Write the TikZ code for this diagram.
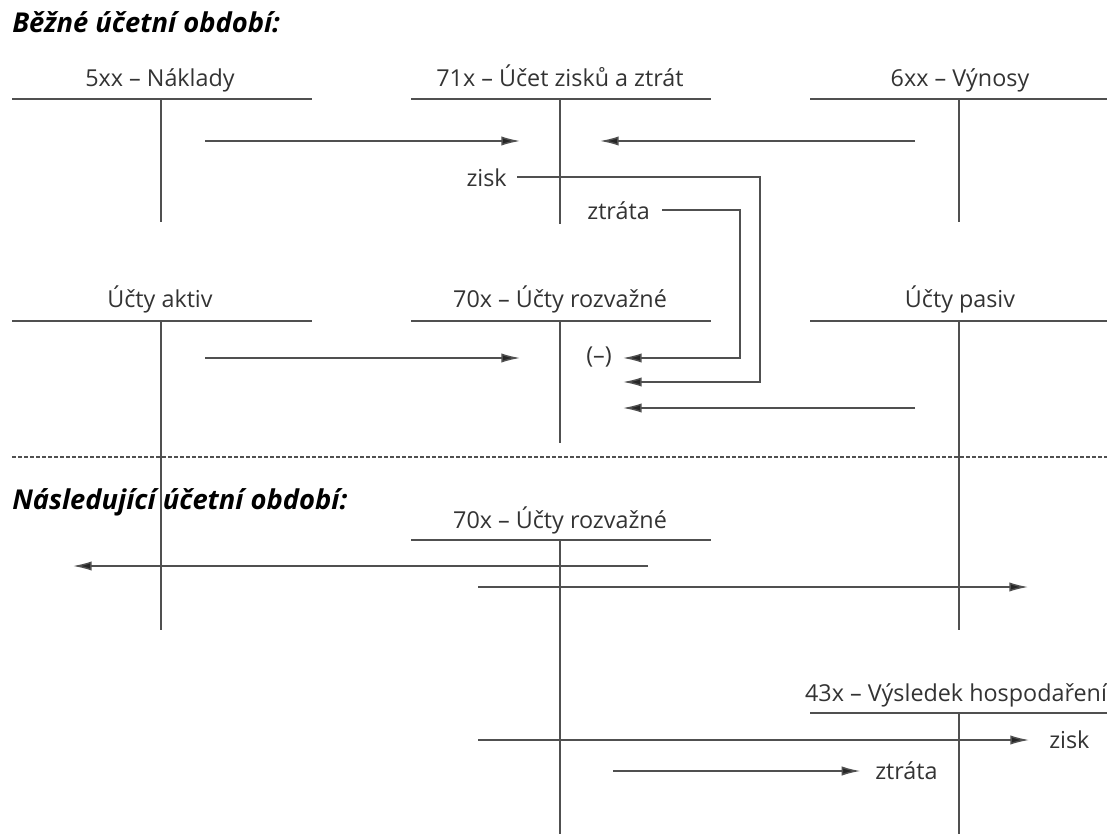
\documentclass[tikz,border=0pt]{standalone}
\usepackage{fontspec}
\setmainfont{Open Sans}
\usetikzlibrary{arrows.meta}
\definecolor{ln}{HTML}{505050}
\tikzset{
  acct/.style={inner sep=0pt, anchor=base, font=\fontsize{17.5}{20}\selectfont, text=black!80},
  head/.style={inner sep=0pt, anchor=base west, font=\fontsize{20.5}{24}\selectfont\bfseries\itshape},
  lab/.style={inner sep=0pt, font=\fontsize{17.5}{20}\selectfont, text=black!80},
  tl/.style={draw=ln, line width=1.3pt},
  arr/.style={draw=ln, line width=1.1pt, -{Latex[length=14pt,width=7pt,fill=black!85]}},
}
\begin{document}
\begin{tikzpicture}[x=0.75pt,y=-0.75pt]
\useasboundingbox (0,0) rectangle (1107,834);
% headings
\node[head] (h1) at (12,33) {Běžné účetní období:};
\node[head] (h2) at (12,509) {Následující účetní období:};
% top T-accounts
\node[acct] (n5) at (160,87) {5xx – Náklady};
\node[acct] (n71) at (560,87) {71x – Účet zisků a ztrát};
\node[acct] (n6) at (960,87) {6xx – Výnosy};
\draw[tl] (12,99) -- (312,99) (161,99) -- (161,222);
\draw[tl] (411,99) -- (711,99) (560,99) -- (560,224);
\draw[tl] (810,99) -- (1107,99) (959,99) -- (959,222);
% middle T-accounts
\node[acct] (na) at (160,308) {Účty aktiv};
\node[acct] (n70) at (560,308) {70x – Účty rozvažné};
\node[acct] (np) at (960,308) {Účty pasiv};
\draw[tl] (12,321) -- (312,321) (161,321) -- (161,630);
\draw[tl] (411,321) -- (711,321) (560,321) -- (560,443);
\draw[tl] (810,321) -- (1107,321) (959,321) -- (959,630);
% top arrows
\coordinate (a1s) at (205,141); \coordinate (a1e) at (520,141);
\coordinate (a2s) at (915,141); \coordinate (a2e) at (600,141);
\draw[arr] (a1s) -- (a1e);
\draw[arr] (a2s) -- (a2e);
\node[lab, anchor=east] (zisk1) at (507,178) {zisk};
\node[lab, anchor=east] (ztr1) at (650,211) {ztráta};
\node[lab] (minus) at (599,357) {(–)};
\coordinate (zk) at (760,177); \coordinate (zke) at (623,382);
\coordinate (zt) at (740,210); \coordinate (zte) at (623,358);
\draw[arr] (517,177) -- (zk) |- (zke);
\draw[arr] (662,210) -- (zt) |- (zte);
\coordinate (a3s) at (205,358); \coordinate (a3e) at (520,358);
\draw[arr] (a3s) -- (a3e);
\coordinate (a4s) at (915,408); \coordinate (a4e) at (623,408);
\draw[arr] (a4s) -- (a4e);
% dashed separator
\draw[draw=ln, line width=0.8pt, dash pattern=on 3pt off 1.5pt] (12,457) -- (1107,457);
% bottom T-accounts
\node[acct] (n70b) at (560,528) {70x – Účty rozvažné};
\draw[tl] (411,540) -- (711,540) (560,540) -- (560,834);
\node[acct] (n43) at (956,701) {43x – Výsledek hospodaření};
\draw[tl] (810,713) -- (1107,713) (959,713) -- (959,834);
% bottom arrows
\coordinate (b1s) at (648,566); \coordinate (b1e) at (73,566);
\draw[arr] (b1s) -- (b1e);
\coordinate (b2s) at (478,587); \coordinate (b2e) at (1028,587);
\draw[arr] (b2s) -- (b2e);
\node[lab, anchor=west] (zisk2) at (1049,740) {zisk};
\node[lab, anchor=west] (ztr2) at (875,771) {ztráta};
\coordinate (b3s) at (478,740);
\draw[arr] (b3s) -- ([xshift=-15pt]zisk2.west);
\coordinate (b4s) at (613,771);
\draw[arr] (b4s) -- ([xshift=-11pt]ztr2.west);
\end{tikzpicture}
\end{document}
